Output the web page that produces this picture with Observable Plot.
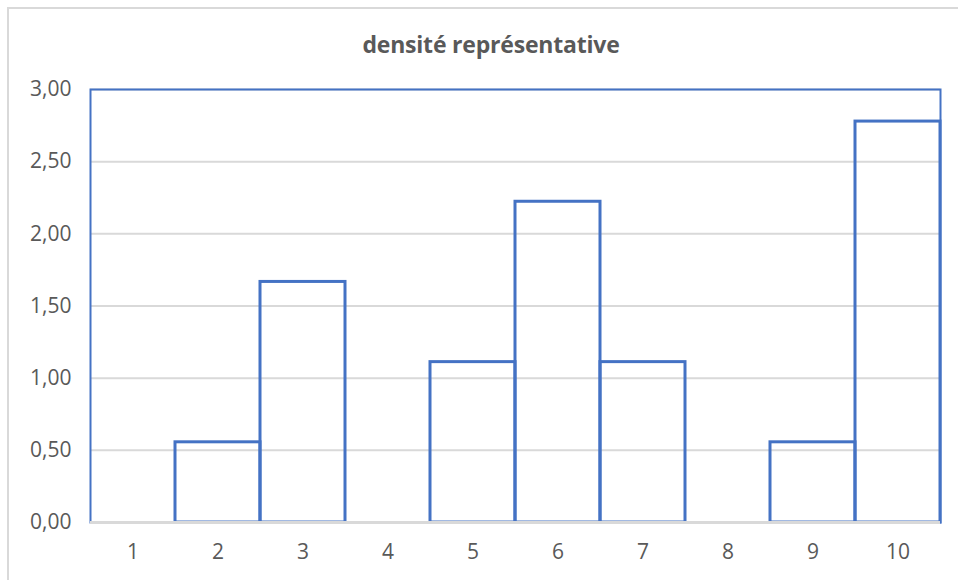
<!DOCTYPE html>
<html>
<head>
<meta charset="utf-8">
<script src="https://cdn.jsdelivr.net/npm/d3@7"></script>
<script src="https://cdn.jsdelivr.net/npm/@observablehq/plot@0.6"></script>
<style>
  html, body { margin: 0; padding: 0; background: #fff; }
  #chart {
    position: absolute; left: 7px; top: 7px; width: 960px; height: 580px;
    border-left: 2px solid #d9d9d9; border-top: 2px solid #d9d9d9;
    box-sizing: border-box;
  }
  #title {
    position: absolute; left: 12px; top: 0; width: 958px; height: 60px;
    text-align: center; font: bold 23px "Open Sans", sans-serif; color: #595959;
    line-height: 88px; letter-spacing: -0.2px;
  }
  #plot { position: absolute; left: 0; top: 60px; }
</style>
</head>
<body>
<div id="chart"></div>
<div id="title">densité représentative</div>
<div id="plot"></div>
<script>
// Classes and their representative density
const classes = [1, 2, 3, 4, 5, 6, 7, 8, 9, 10];
const densities = [0, 0.5556, 1.6667, 0, 1.1111, 2.2222, 1.1111, 0, 0.5556, 2.7778];
const yTicks = [0, 0.5, 1, 1.5, 2, 2.5, 3];

const data = classes.map((c, i) => ({classe: c, densite: densities[i]}));
const fmt = v => v.toFixed(2).replace(".", ",");
const blue = "#4472C4";
const grey = "#d9d9d9";

const chart = Plot.plot({
  width: 958,
  height: 520,
  marginLeft: 90,
  marginRight: 18,
  marginTop: 29,
  marginBottom: 58,
  style: {fontFamily: "'Open Sans', sans-serif", fontSize: "21px", color: "#595959", background: "transparent"},
  x: {type: "band", domain: classes, padding: 0, label: null, tickSize: 0, tickPadding: 22},
  y: {domain: [0, 3], ticks: yTicks, tickFormat: fmt, label: null, tickSize: 0, tickPadding: 19},
  marks: [
    Plot.gridY(yTicks, {stroke: grey, strokeOpacity: 1, strokeWidth: 2}),
    Plot.frame({stroke: blue, strokeWidth: 2}),
    Plot.barY(data.filter(d => d.densite > 0), {
      x: "classe", y: "densite", fill: "none", stroke: blue, strokeWidth: 3
    }),
    Plot.ruleY([0], {stroke: grey, strokeWidth: 3})
  ]
});
document.getElementById("plot").appendChild(chart);
</script>
</body>
</html>
